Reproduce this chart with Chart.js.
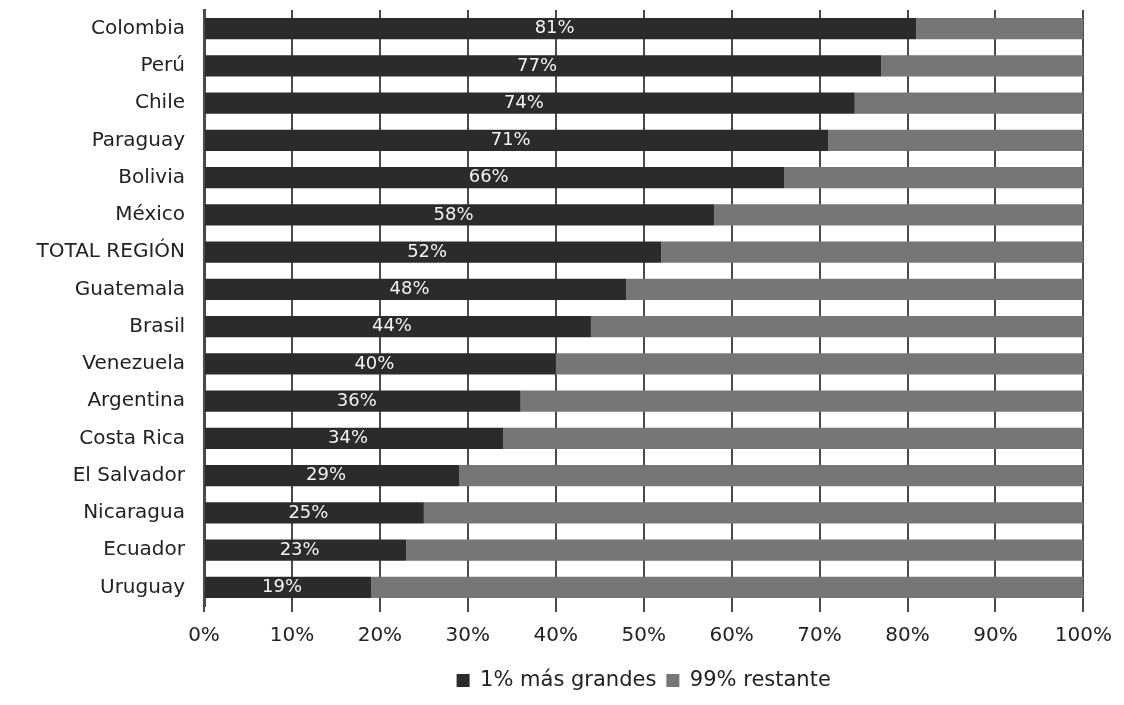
<!DOCTYPE html>
<html>
<head>
<meta charset="utf-8">
<script src="https://cdn.jsdelivr.net/npm/chart.js@4.4.1/dist/chart.umd.min.js"></script>
<style>
  html, body { margin: 0; padding: 0; background: #ffffff; }
  #wrap { width: 1124px; height: 705px; }
</style>
</head>
<body>
<div id="wrap"><canvas id="chart" width="1124" height="705"></canvas></div>
<script>
// ---------- Data ----------
const countries = [
  "Colombia", "Perú", "Chile", "Paraguay", "Bolivia", "México",
  "TOTAL REGIÓN", "Guatemala", "Brasil", "Venezuela", "Argentina",
  "Costa Rica", "El Salvador", "Nicaragua", "Ecuador", "Uruguay"
];
const top1 = [81, 77, 74, 71, 66, 58, 52, 48, 44, 40, 36, 34, 29, 25, 23, 19];
const rest99 = [19, 23, 26, 29, 34, 42, 48, 52, 56, 60, 64, 66, 71, 75, 77, 81];
const xTicks = [0, 10, 20, 30, 40, 50, 60, 70, 80, 90, 100];

const FONT = "'DejaVu Sans', sans-serif";

// ---------- Labels inside the first segment ----------
const segmentLabels = {
  id: "segmentLabels",
  afterDatasetsDraw(chart) {
    const ctx = chart.ctx;
    const meta = chart.getDatasetMeta(0);
    ctx.save();
    ctx.font = "18px " + FONT;
    ctx.fillStyle = "#f2f2f2";
    ctx.textAlign = "center";
    ctx.textBaseline = "middle";
    meta.data.forEach((bar, i) => {
      const cx = (bar.x + bar.base) / 2 - 6;
      ctx.fillText(top1[i] + "%", cx, bar.y);
    });
    ctx.restore();
  }
};

new Chart(document.getElementById("chart"), {
  type: "bar",
  data: {
    labels: countries,
    datasets: [
      {
        label: "1% más grandes",
        data: top1,
        backgroundColor: "#2b2b2b",
        barPercentage: 0.57,
        categoryPercentage: 1
      },
      {
        label: "99% restante",
        data: rest99,
        backgroundColor: "#767676",
        barPercentage: 0.57,
        categoryPercentage: 1
      }
    ]
  },
  options: {
    indexAxis: "y",
    responsive: false,
    animation: false,
    layout: { padding: { top: 10, right: 34, left: 0, bottom: 4 } },
    plugins: {
      legend: {
        position: "bottom",
        fullSize: false,
        labels: {
          font: { family: FONT, size: 21 },
          color: "#222",
          boxWidth: 13,
          boxHeight: 13,
          padding: 10
        }
      },
      tooltip: { enabled: false }
    },
    scales: {
      x: {
        stacked: true,
        min: 0,
        max: 100,
        z: 1,
        afterBuildTicks: scale => {
          scale.ticks = xTicks.map(v => ({ value: v }));
        },
        ticks: {
          callback: v => v + "%",
          font: { family: FONT, size: 20 },
          color: "#222",
          padding: 12,
          maxRotation: 0
        },
        grid: {
          color: "#4a4a4a",
          lineWidth: 2,
          drawTicks: true,
          tickLength: 6
        },
        border: { display: false }
      },
      y: {
        stacked: true,
        afterFit: scale => {
          scale.width = 204;
          scale.paddingTop = 0;
          scale.paddingBottom = 0;
        },
        ticks: {
          font: { family: FONT, size: 20 },
          color: "#222",
          padding: 11
        },
        grid: { display: false },
        border: { display: true, color: "#4a4a4a", width: 3 }
      }
    }
  },
  plugins: [segmentLabels]
});
</script>
</body>
</html>
